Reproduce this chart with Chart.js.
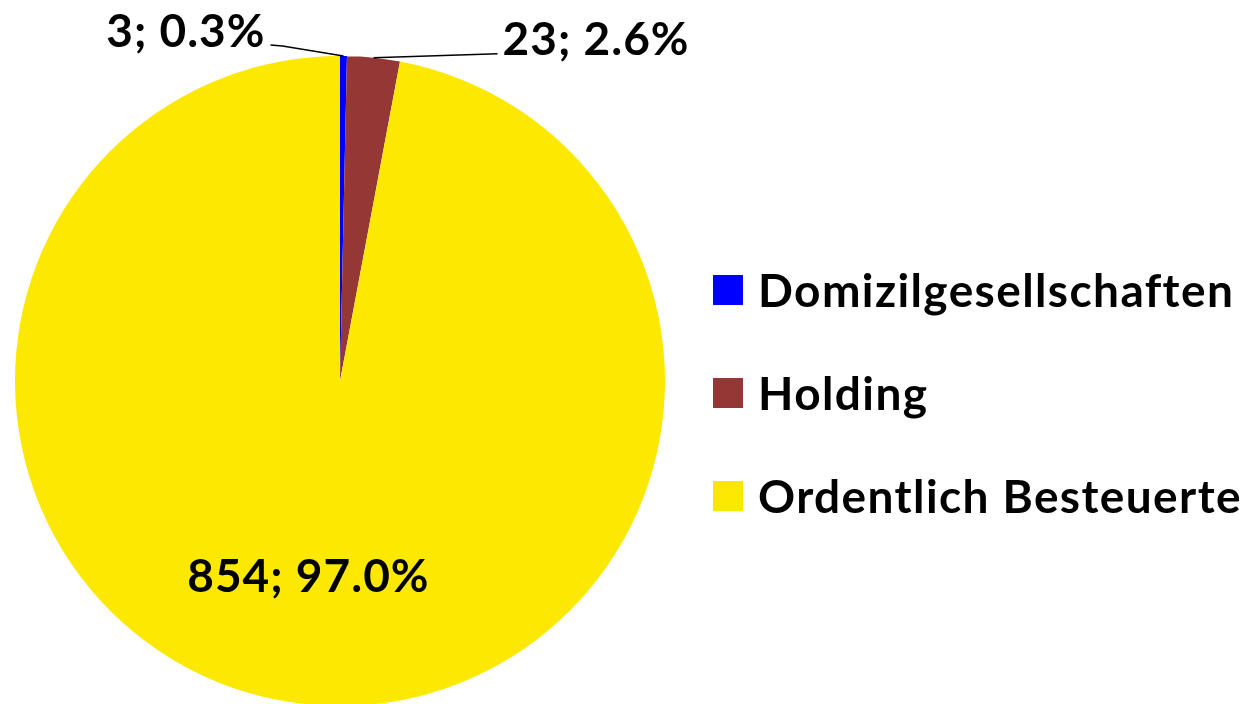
<!DOCTYPE html>
<html>
<head>
<meta charset="utf-8">
<script src="https://cdn.jsdelivr.net/npm/chart.js@4/dist/chart.umd.min.js"></script>
<style>
    body { margin: 0; background: #fff; }
    #wrap { position: relative; width: 1252px; height: 704px; overflow: hidden; }
    #legend { position: absolute; left: 713px; top: 238px; font-family: Lato, sans-serif; font-weight: 700; font-size: 46px; letter-spacing: 1.4px; color: #000; }
    .leg-row { display: flex; align-items: center; height: 103px; white-space: nowrap; }
    .leg-box { width: 30px; height: 30px; margin-right: 15px; }
</style>
</head>
<body>
<div id="wrap">
    <canvas id="pieChart" width="1252" height="704"></canvas>
    <div id="legend"></div>
</div>
<script>
// Data
const categories = ["Domizilgesellschaften", "Holding", "Ordentlich Besteuerte"];
const counts = [3, 23, 854];
const colors = ["#0000FF", "#953735", "#FCE800"];

// label placement relative to the slice (style only)
const labelStyle = [
    { mode: "outside", align: "right", tx: -78, ty: -9, line: [[-61, -10], [-73, -11]] },
    { mode: "outside", align: "left", tx: 129, ty: -3, line: [[124, -4]] },
    { mode: "inside", frac: 0.652, tx: -12, ty: 0 }
];

const total = counts.reduce((a, b) => a + b, 0);

const pieLabels = {
    id: "pieLabels",
    afterDatasetsDraw(chart) {
        const ctx = chart.ctx;
        const meta = chart.getDatasetMeta(0);
        ctx.save();
        ctx.font = "700 46px Lato";
        ctx.letterSpacing = "1px";
        ctx.fillStyle = "#000";
        ctx.strokeStyle = "#000";
        ctx.lineWidth = 1.5;
        ctx.textBaseline = "alphabetic";
        meta.data.forEach((arc, i) => {
            const v = counts[i];
            const text = v + "; " + (v / total * 100).toFixed(1) + "%";
            const s = labelStyle[i];
            const mid = (arc.startAngle + arc.endAngle) / 2;
            if (s.mode === "outside") {
                const ex = arc.x + Math.cos(mid) * arc.outerRadius;
                const ey = arc.y + Math.sin(mid) * arc.outerRadius;
                ctx.beginPath();
                ctx.moveTo(ex, ey);
                s.line.forEach(p => ctx.lineTo(ex + p[0], ey + p[1]));
                ctx.stroke();
                ctx.textAlign = s.align;
                ctx.fillText(text, ex + s.tx, ey + s.ty);
            } else {
                const r = arc.outerRadius * s.frac;
                ctx.textAlign = "center";
                ctx.fillText(text, arc.x + Math.cos(mid) * r + s.tx, arc.y + Math.sin(mid) * r + s.ty);
            }
        });
        ctx.restore();
    }
};

new Chart(document.getElementById("pieChart"), {
    type: "pie",
    data: {
        labels: categories,
        datasets: [{
            data: counts,
            backgroundColor: colors,
            borderWidth: 0
        }]
    },
    options: {
        responsive: false,
        animation: false,
        radius: 325,
        layout: { padding: { left: 0, right: 572, top: 58, bottom: 0 } },
        plugins: {
            legend: { display: false },
            tooltip: { enabled: false }
        }
    },
    plugins: [pieLabels]
});

// Legend
const legend = document.getElementById("legend");
legend.innerHTML = categories
    .map((c, i) => `
        <div class="leg-row">
            <span class="leg-box" style="background:${colors[i]}"></span>
            <span>${c}</span>
        </div>
    `)
    .join("");
</script>
</body>
</html>
